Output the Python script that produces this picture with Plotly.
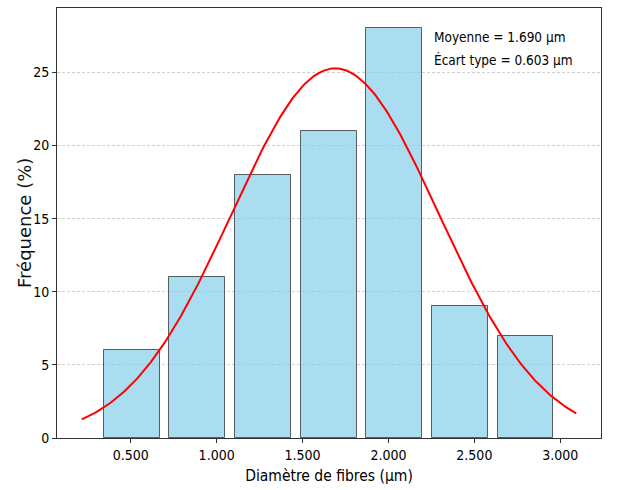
import numpy as np
import plotly.graph_objects as go

# Histogram of fibre diameters (bin edges in µm, frequencies in %)
bin_edges = [0.315, 0.697, 1.079, 1.461, 1.843, 2.225, 2.607, 2.989]
frequencies = [6, 11, 18, 21, 28, 9, 7]

# Fitted normal distribution parameters
mean_um = 1.690
std_um = 0.603
curve_start, curve_end = 0.215, 3.093

x_ticks = [0.5, 1.0, 1.5, 2.0, 2.5, 3.0]
y_ticks = [0, 5, 10, 15, 20, 25]

edges = np.array(bin_edges)
centers = (edges[:-1] + edges[1:]) / 2
bin_width = float(np.mean(np.diff(edges)))

xs = np.linspace(curve_start, curve_end, 300)
pdf = np.exp(-0.5 * ((xs - mean_um) / std_um) ** 2) / (std_um * np.sqrt(2 * np.pi))
ys = pdf * 100 * bin_width

FONT = "DejaVu Sans Condensed, Liberation Sans Narrow, DejaVu Sans, sans-serif"

fig = go.Figure()
fig.add_trace(go.Bar(
    x=centers, y=frequencies, width=bin_width * 0.85,
    marker=dict(color="rgba(135,206,235,0.7)",
                line=dict(color="rgba(0,0,0,0.6)", width=1)),
    hoverinfo="x+y", showlegend=False,
))
fig.add_trace(go.Scatter(
    x=xs, y=ys, mode="lines",
    line=dict(color="red", width=2), showlegend=False,
))

stats_lines = [f"Moyenne = {mean_um:.3f} µm", f"Écart type = {std_um:.3f} µm"]
for i, line in enumerate(stats_lines):
    fig.add_annotation(
        x=0.689, y=0.9326 - i * 0.0535, xref="paper", yref="paper",
        xanchor="left", yanchor="middle", align="left", showarrow=False,
        text=line, font=dict(family=FONT, size=13.5, color="black"),
    )

# Vertical axis title
fig.add_annotation(
    x=-0.0607, y=0.5, xref="paper", yref="paper",
    xanchor="center", yanchor="middle", textangle=-90, showarrow=False,
    text="Fréquence (%)", font=dict(family="DejaVu Sans, sans-serif", size=18, color="#111"),
)

fig.update_layout(
    width=619, height=490,
    margin=dict(l=57, r=18, t=8, b=52),
    paper_bgcolor="white", plot_bgcolor="white",
    bargap=0,
    font=dict(family=FONT, size=14, color="black"),
    xaxis=dict(
        range=[0.071, 3.237],
        tickvals=x_ticks, tickformat=".3f",
        ticks="outside", ticklen=4, tickcolor="#333",
        showline=True, linecolor="#333", linewidth=1, mirror=True,
        showgrid=False, zeroline=False,
        title=dict(text="Diamètre de fibres (µm)", font=dict(family=FONT, size=15.5), standoff=8),
    ),
    yaxis=dict(
        range=[0, 29.4],
        tickvals=y_ticks,
        ticks="outside", ticklen=4, tickcolor="#333",
        showline=True, linecolor="#333", linewidth=1, mirror=True,
        showgrid=True, gridcolor="#cfcfcf", gridwidth=0.8, griddash="3px,2px",
        zeroline=False,
    ),
)

fig.write_html("out.html")
